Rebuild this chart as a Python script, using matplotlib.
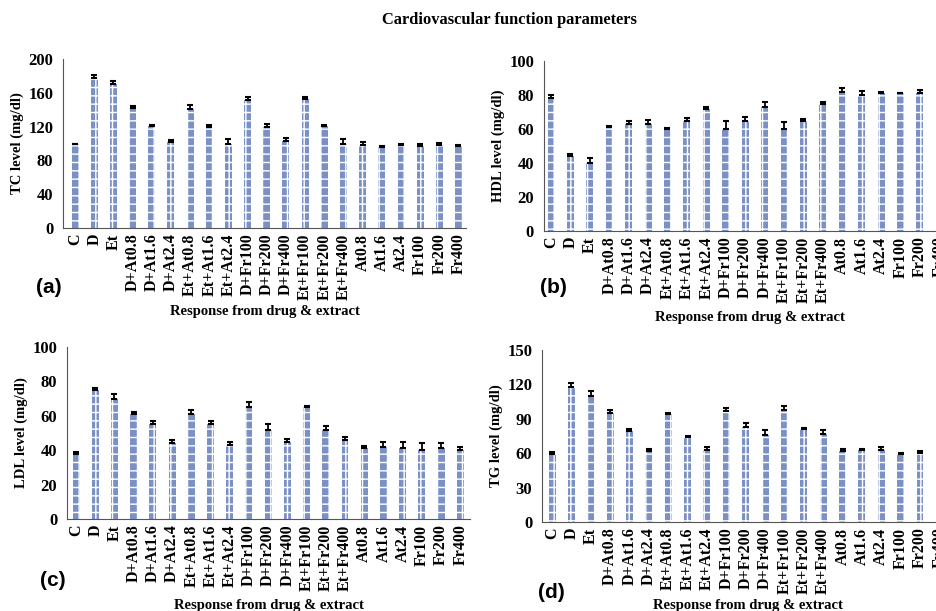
import matplotlib
matplotlib.use('Agg')
import matplotlib.pyplot as plt
import numpy as np

groups = ['C', 'D', 'Et', 'D+At0.8', 'D+At1.6', 'D+At2.4', 'Et+At0.8', 'Et+At1.6',
          'Et+At2.4', 'D+Fr100', 'D+Fr200', 'D+Fr400', 'Et+Fr100', 'Et+Fr200',
          'Et+Fr400', 'At0.8', 'At1.6', 'At2.4', 'Fr100', 'Fr200', 'Fr400']

tc = [99, 177, 170, 142, 121, 102, 141, 120, 100, 152, 119, 103, 153, 121, 99, 98, 96, 98, 97, 98, 97]
tc_err = [1, 4, 4, 2, 1, 2, 4, 2, 5, 3, 4, 3, 2, 1, 6, 4, 1, 2, 3, 3, 1]

hdl = [78, 44, 40, 61, 63, 63, 60, 65, 72, 60, 65, 73, 60, 65, 75, 82, 80, 81, 81, 81, 80]
hdl_err = [2, 1.5, 3, 0.5, 1.5, 2.5, 0.5, 1.5, 1, 4.5, 2, 3, 4, 1, 1, 2, 2.5, 1, 0.5, 2, 2]

ldl = [38, 75, 70, 61, 55, 44, 61, 55, 43, 65, 52, 45, 65, 52, 46, 41, 42, 41, 40, 41, 40]
ldl_err = [0.7, 1, 2.5, 1.5, 2, 2, 2.5, 2, 1.5, 3, 3.5, 1.5, 1, 2, 1.5, 1.5, 3, 4, 4, 3, 2]

tg = [59, 118, 110, 95, 79, 62, 94, 74, 63, 97, 83, 76, 98, 81, 77, 62, 63, 63, 59, 60, 62]
tg_err = [2, 3, 4, 3, 2, 2, 1.5, 1, 2, 2, 3, 4, 3, 1, 3, 2, 1, 2, 1, 2, 1]

plt.rcParams['font.family'] = 'Liberation Serif'
plt.rcParams['font.weight'] = 'bold'
plt.rcParams['hatch.linewidth'] = 1.0

fig = plt.figure(figsize=(9.36, 6.11), dpi=100)

panels = [
    # values, errors, ylabel, ymax, step, axes rect, xlim, letter pos, xlabel y (px)
    (tc, tc_err, 'TC level (mg/dl)', 200, 40, [0.0673, 0.6268, 0.4307, 0.2766], (-0.63, 20.4), (0.052, 0.53), 312),
    (hdl, hdl_err, 'HDL level (mg/dl)', 100, 20, [0.581, 0.622, 0.435, 0.278], (-0.37, 20.6), (0.591, 0.53), 317),
    (ldl, ldl_err, 'LDL level (mg/dl)', 100, 20, [0.0716, 0.1506, 0.4304, 0.2814], (-0.47, 20.5), (0.056, 0.05), 605),
    (tg, tg_err, 'TG level (mg/dl)', 150, 30, [0.579, 0.1457, 0.437, 0.2814], (-0.52, 20.6), (0.589, 0.03), 606),
]
letters = ['(a)', '(b)', '(c)', '(d)']

for (vals, errs, ylab, ymax, step, rect, xl, lpos, xly), letter in zip(panels, letters):
    ax = fig.add_axes(rect)
    x = np.arange(len(groups))
    ax.bar(x, vals, width=0.36, color='#7b91c6', edgecolor='white', hatch='++', linewidth=0)
    ax.errorbar(x, vals, yerr=[np.zeros(len(errs)), errs], fmt='none', ecolor='black',
                elinewidth=1.3, capsize=2.5, capthick=1.5)
    ax.set_xlim(*xl)
    ax.set_ylim(0, ymax)
    ax.set_yticks(np.arange(0, ymax + 1, step))
    ax.set_xticks(x)
    ax.set_xticklabels(groups, rotation=90, fontsize=11.5, fontweight='bold')
    ax.tick_params(axis='y', length=0, labelsize=12, pad=7)
    ax.tick_params(axis='x', length=0, pad=4)
    for s in ['top', 'right']:
        ax.spines[s].set_visible(False)
    ax.spines['left'].set_color('#555555')
    ax.spines['bottom'].set_color('#555555')
    ax.set_ylabel(ylab, fontsize=10.5, fontweight='bold', labelpad=3)
    fig.text(lpos[0], lpos[1], letter, fontsize=15, fontweight='bold',
             family='Liberation Sans', va='center', ha='center')
    cx = rect[0] + rect[2] / 2 if rect[0] < 0.5 else rect[0] + 0.22
    fig.text(cx, 1 - xly / 611, 'Response from drug & extract', fontsize=10.5,
             fontweight='bold', ha='center', va='center')

fig.text(0.544, 1 - 20 / 611, 'Cardiovascular function parameters', fontsize=11.8,
         fontweight='bold', ha='center', va='center')

fig.savefig('out.png', dpi=100)
